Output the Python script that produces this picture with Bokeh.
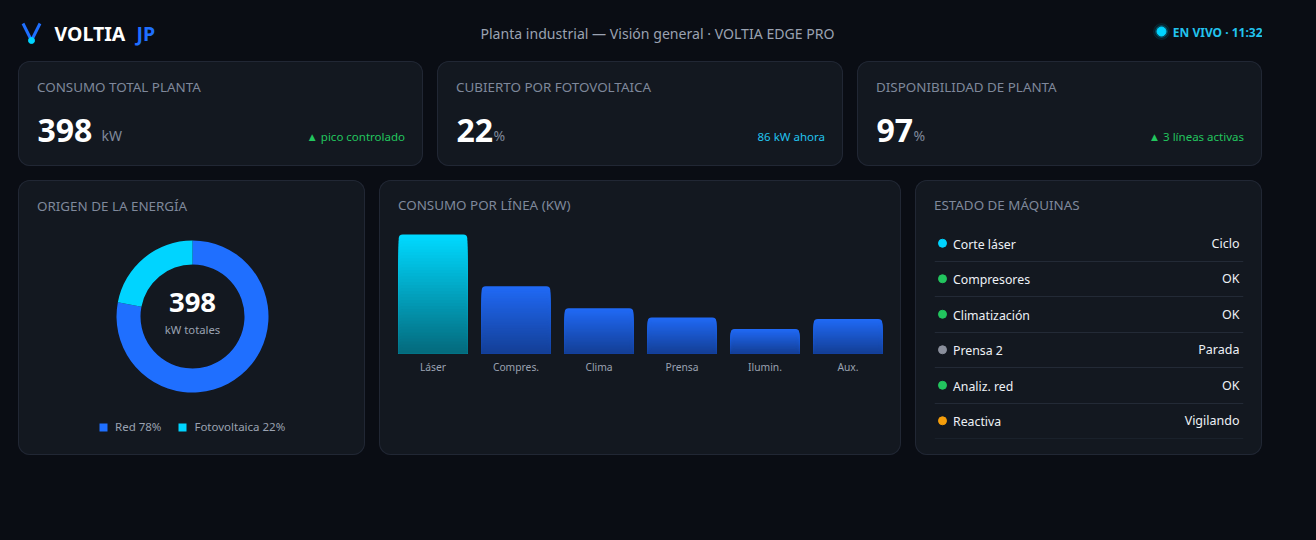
from bokeh.core.properties import value
from bokeh.embed import file_html
from bokeh.layouts import column, row
from bokeh.models import ColumnDataSource, FactorRange, Label, Legend, LegendItem, Range1d, Title
from bokeh.plotting import figure
from bokeh.resources import INLINE
import numpy as np

kpi_titles = ["CONSUMO TOTAL PLANTA", "CUBIERTO POR FOTOVOLTAICA", "DISPONIBILIDAD DE PLANTA"]
kpi_values = ["398", "22", "97"]
kpi_units = ["kW", "%", "%"]
kpi_notes = ["▲ pico controlado", "86 kW ahora", "▲ 3 líneas activas"]

source_labels = ["Red 78%", "Fotovoltaica 22%"]
source_shares = [78, 22]

lines = ["Láser", "Compres.", "Clima", "Prensa", "Ilumin.", "Aux."]
line_kw = [145, 82, 55, 44, 30, 42]

machines = ["Corte láser", "Compresores", "Climatización", "Prensa 2", "Analiz. red", "Reactiva"]
machine_states = ["Ciclo", "OK", "OK", "Parada", "OK", "Vigilando"]

PAGE = "#0a0d14"
CARD = "#131820"
EDGE = "#212734"
MUTED = "#7f889b"
SOFT = "#9aa2b1"
TEXT = "#eef1f6"
BLUE = "#1f6fff"
CYAN = "#00d4ff"
GREEN = "#22c55e"
STATE_COLORS = {"Ciclo": CYAN, "OK": GREEN, "Parada": "#8a8f9c", "Vigilando": "#f59e0b"}
FONT = "Noto Sans"


def put(p, x, y, text, size=12, color=TEXT, align="left", style="normal"):
    # x, y are pixels from the top left of the figure, y is the text's middle
    p.add_layout(Label(
        x=x, y=y, x_units="canvas", y_units="canvas", text=text, text_font=FONT,
        text_font_size=f"{size}px", text_font_style=style, text_color=color,
        text_align=align, text_baseline="middle",
    ))


def panel(width, height, x_range, y_range, left=0, right=0, top=0, bottom=0, card=True):
    p = figure(
        width=width, height=height, x_range=x_range, y_range=y_range,
        output_backend="svg", toolbar_location=None, tools="",
        min_border_left=left, min_border_right=right,
        min_border_top=top, min_border_bottom=bottom,
        background_fill_color=None, border_fill_color=None, outline_line_color=None,
        frame_align=False,
    )
    p.grid.visible = False
    if card:
        p.styles = {
            "background": CARD, "border-radius": "12px",
            "box-shadow": f"inset 0 0 0 1px {EDGE}",
        }
    return p


def card_title(p, text, offset, standoff):
    # these cards have a frame below the heading, so the heading is a real plot title
    p.title = Title(
        text=text, align="left", offset=offset, standoff=standoff, text_font=FONT,
        text_font_size="13.4px", text_font_style="normal", text_color=MUTED,
    )


def kpi_card(title, number, unit, note, note_color, unit_x, width):
    p = panel(width, 105, Range1d(0, width), Range1d(0, 105))
    p.axis.visible = False
    put(p, 18.5, 25, title, 13.4, MUTED)
    put(p, 19, 69, number, 32, "#ffffff", style="bold")
    put(p, unit_x, 74, unit, 14, MUTED)
    put(p, width - 18.5, 75, note, 11.5, note_color, align="right")
    return p


# header
head = panel(1244, 39, Range1d(0, 1244), Range1d(39, 0), card=False)
head.axis.visible = False
head.line([4.5, 13, 21.5], [15, 32, 15], line_color=BLUE, line_width=3)
head.scatter([13], [32], size=6, color=CYAN)
for size, alpha in [(16, 0.08), (12, 0.18)]:
    head.scatter([1143], [23], size=size, color=CYAN, alpha=alpha)
head.scatter([1143], [23], size=9, color=CYAN)
put(head, 36, 25, "VOLTIA", 19.5, "#ffffff", style="bold")
put(head, 118, 25, "JP", 19.5, BLUE, style="bold")
put(head, 639, 25, "Planta industrial — Visión general · VOLTIA EDGE PRO", 14.1, SOFT, align="center")
put(head, 1244, 24, "EN VIVO · 11:32", 12, "#22c3ee", align="right", style="bold")

cards = [
    kpi_card(kpi_titles[0], kpi_values[0], kpi_units[0], kpi_notes[0], GREEN, 83, 405),
    kpi_card(kpi_titles[1], kpi_values[1], kpi_units[1], kpi_notes[1], "#22c3ee", 56, 406),
    kpi_card(kpi_titles[2], kpi_values[2], kpi_units[2], kpi_notes[2], GREEN, 56, 405),
]

# donut
donut = panel(347, 275, Range1d(0, 347), Range1d(0, 275))
donut.axis.visible = False
shares = np.array(source_shares) / sum(source_shares) * 2 * np.pi
ends = np.pi / 2 - np.cumsum(np.r_[0, shares[:-1]])
wedges = ColumnDataSource(dict(
    label=source_labels, start=ends - shares, end=ends, color=[BLUE, CYAN],
))
ring = donut.annular_wedge(
    x=174, y=139, inner_radius=52, outer_radius=76,
    inner_radius_units="screen", outer_radius_units="screen",
    start_angle="start", end_angle="end", fill_color="color", line_color=None, source=wedges,
)
legend = Legend(
    items=[LegendItem(label=name, renderers=[ring], index=i) for i, name in enumerate(source_labels)],
    orientation="horizontal", location=(80, 21), padding=0, margin=0, spacing=16,
    glyph_width=10, glyph_height=10, label_standoff=7, label_height=10,
    label_text_font=FONT, label_text_font_size="11.5px", label_text_color=SOFT,
    background_fill_color=None, border_line_color=None,
)
donut.add_layout(legend)
put(donut, 18.5, 25, "ORIGEN DE LA ENERGÍA", 13.4, MUTED)
put(donut, 174, 122, kpi_values[0], 27.5, "#ffffff", align="center", style="bold")
put(donut, 174, 149, "kW totales", 11.3, SOFT, align="center")

# bars, painted tall to short so the fill reads as a vertical gradient
bars = panel(522, 275, FactorRange(factors=lines), Range1d(0, max(line_kw) * 128 / 119),
             left=12, right=12, top=45, bottom=102)
bars.yaxis.visible = False
bars.xaxis.axis_line_color = None
bars.xaxis.major_tick_line_color = None
bars.xaxis.minor_tick_line_color = None
bars.xaxis.major_label_standoff = 0
bars.xaxis.major_label_text_font = FONT
bars.xaxis.major_label_text_font_size = "10.3px"
bars.xaxis.major_label_text_color = SOFT
steps = 40
for step in range(steps, 0, -1):
    frac = step / steps
    fill = [
        (round(4 + (0 - 4) * frac), round(104 + (217 - 104) * frac), round(122 + (255 - 122) * frac))
        if kw == max(line_kw) else
        (round(19 + (32 - 19) * frac), round(62 + (105 - 62) * frac), round(148 + (245 - 148) * frac))
        for kw in line_kw
    ]
    bars.vbar(x=lines, top=[kw * frac for kw in line_kw], width=0.826,
              fill_color=[f"#{r:02x}{g:02x}{b:02x}" for r, g, b in fill],
              line_color=None, border_radius=(4, 4, 0, 0))
card_title(bars, "CONSUMO POR LÍNEA (KW)", 6.5, 24)

# machine list
board = panel(347, 275, Range1d(0, 309), FactorRange(factors=machines[::-1]),
              left=19, right=19, top=45, bottom=17)
board.axis.visible = False
rows = ColumnDataSource(dict(
    name=machines, state=machine_states, color=[STATE_COLORS[s] for s in machine_states],
))
board.hspan(y=list(range(len(machines))), line_color="#232a36", line_width=1)
board.scatter(x=8, y="name", size=8, color="color", source=rows)
board.text(x=18.5, y="name", text="name", y_offset=1, text_baseline="middle",
           text_font=value(FONT), text_font_size="12.3px", text_color=TEXT, source=rows)
board.text(x=305, y="name", text="state", text_baseline="middle", text_align="right",
           text_font=value(FONT), text_font_size="12.5px", text_color=TEXT, source=rows)
card_title(board, "ESTADO DE MÁQUINAS", -0.5, 24)

page = column(
    head,
    row(*cards, spacing=14),
    row(donut, bars, board, spacing=14),
    spacing=14, margin=(8, 0, 0, 18),
)

html = file_html(page, INLINE)
html = html.replace("<body>", f'<body style="background:{PAGE}">')
open("out.html", "w").write(html)
